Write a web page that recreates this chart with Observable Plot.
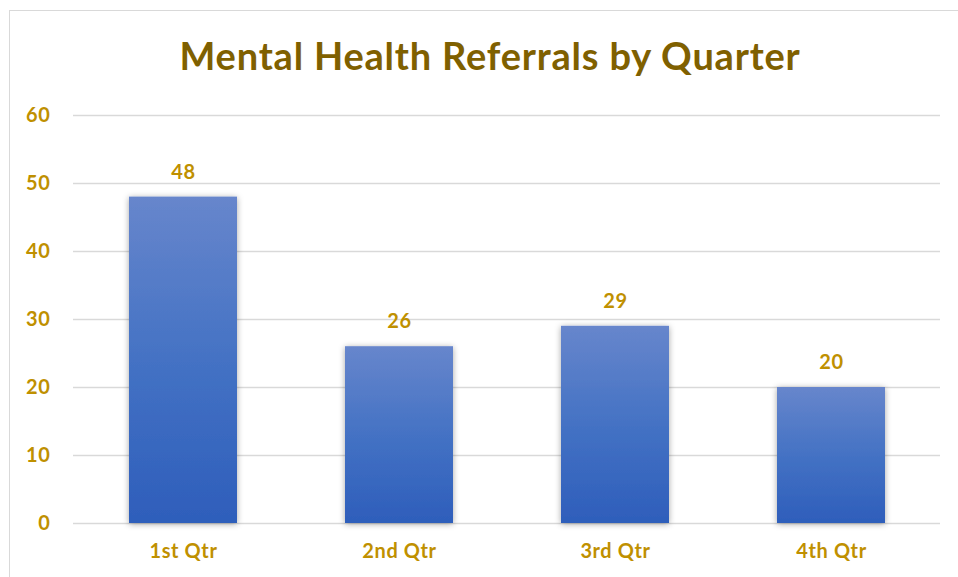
<!DOCTYPE html>
<html>
<head>
<meta charset="utf-8">
<script src="https://cdn.jsdelivr.net/npm/d3@7"></script>
<script src="https://cdn.jsdelivr.net/npm/@observablehq/plot@0.6"></script>
<style>
  html, body { margin: 0; padding: 0; background: #fff; overflow: hidden; width: 958px; height: 577px; }
  #frame { position: absolute; left: 9px; top: 10px; width: 980px; height: 600px; border: 1.5px solid #d9d9d9; box-sizing: border-box; }
  #title { position: absolute; left: 0; top: 32px; width: 980px; text-align: center; font-family: Lato, "Open Sans", sans-serif; font-weight: bold; font-size: 38px; letter-spacing: 0.8px; color: #7F6000; }
  #chart { position: absolute; left: 0; top: 95px; }
  #chart text { letter-spacing: 0.6px; }
</style>
</head>
<body>
<div id="frame"></div>
<div id="title">Mental Health Referrals by Quarter</div>
<div id="chart"></div>
<script>
const quarters = ["1st Qtr", "2nd Qtr", "3rd Qtr", "4th Qtr"];
const referrals = [48, 26, 29, 20];
const yTicks = [0, 10, 20, 30, 40, 50, 60];

const data = quarters.map((q, i) => ({quarter: q, value: referrals[i]}));

const defs = () => {
  const ns = "http://www.w3.org/2000/svg";
  const d = document.createElementNS(ns, "defs");
  d.innerHTML = `
    <linearGradient id="barGrad" x1="0" y1="0" x2="0" y2="1">
      <stop offset="0%" stop-color="#6786CC"/>
      <stop offset="50%" stop-color="#4472C4"/>
      <stop offset="100%" stop-color="#2E5EBB"/>
    </linearGradient>
    <filter id="shadow" x="-20%" y="-10%" width="140%" height="120%">
      <feDropShadow dx="0" dy="1" stdDeviation="3" flood-color="#000" flood-opacity="0.35"/>
    </filter>`;
  return d;
};

const chart = Plot.plot({
  width: 958,
  height: 482,
  marginLeft: 73,
  marginRight: 18,
  marginTop: 20,
  marginBottom: 54,
  style: {fontFamily: "Lato, 'Open Sans', sans-serif", fontWeight: "bold", fontSize: "20px", color: "#BF9000", background: "transparent"},
  x: {domain: quarters, paddingInner: 0.5, paddingOuter: 0.25, label: null, tickSize: 0, tickPadding: 18},
  y: {domain: [0, 60], ticks: yTicks, label: null, tickSize: 0, tickPadding: 23},
  marks: [
    defs,
    Plot.ruleY(yTicks, {stroke: "#D9D9D9", strokeWidth: 1.5}),
    Plot.barY(data, {x: "quarter", y: "value", fill: "url(#barGrad)"}),
    Plot.text(data, {x: "quarter", y: "value", text: d => String(d.value), dy: -25, fill: "#BF9000", fontSize: 20, fontWeight: "bold"}),
    Plot.axisY({ticks: yTicks, tickSize: 0, tickPadding: 23, fill: "#BF9000", fontSize: 20, fontWeight: "bold"}),
    Plot.axisX({tickSize: 0, tickPadding: 20, fill: "#BF9000", fontSize: 20, fontWeight: "bold"})
  ]
});
chart.querySelectorAll("g[aria-label='bar'] rect").forEach(r => r.setAttribute("filter", "url(#shadow)"));
document.getElementById("chart").appendChild(chart);
</script>
</body>
</html>
